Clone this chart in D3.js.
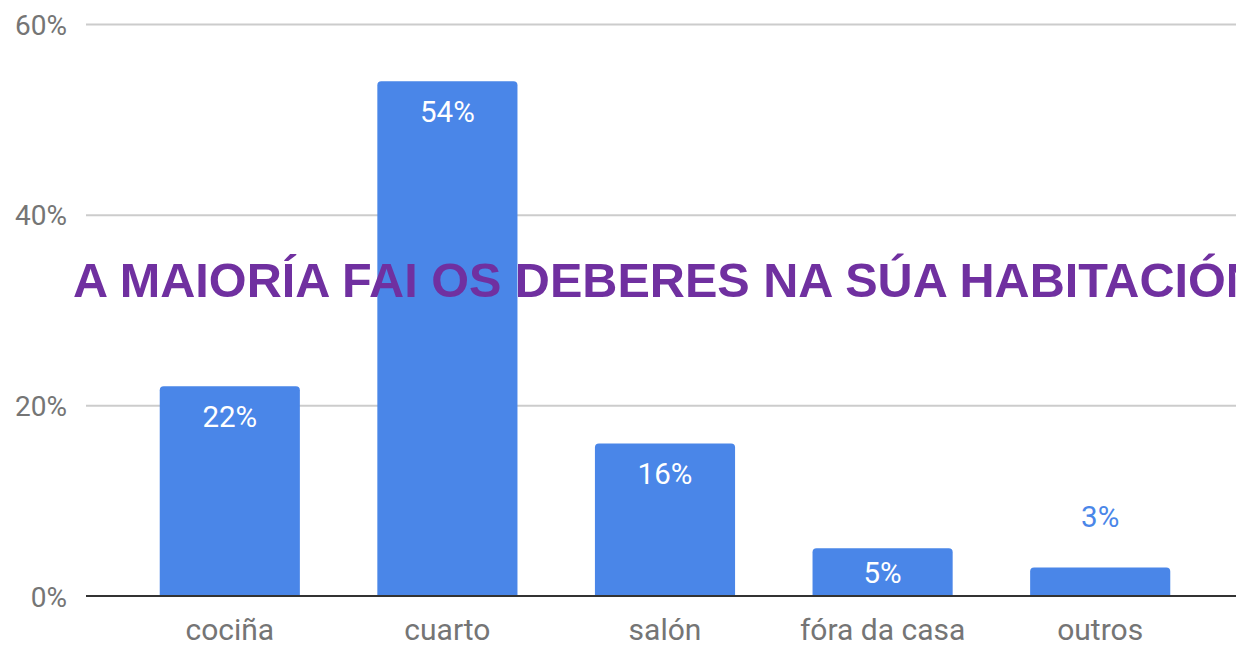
<!DOCTYPE html>
<html>
<head>
<meta charset="utf-8">
<script src="https://cdn.jsdelivr.net/npm/d3@7"></script>
<style>
  body { margin: 0; background: #fff; overflow: hidden; }
  svg { display: block; }
</style>
</head>
<body>
<svg id="chart"></svg>
<script>
// where students do their homework (% of answers)
var categories = ["cociña", "cuarto", "salón", "fóra da casa", "outros"];
var values = [22, 54, 16, 5, 3];
var yTicks = [0, 20, 40, 60];
var title = "A MAIORÍA FAI OS DEBERES NA SÚA HABITACIÓN";

var width = 1236,
  height = 646;

var svg = d3.select("#chart").attr("width", width).attr("height", height);

var x = d3
  .scaleBand()
  .domain(categories)
  .range([121, 1209])
  .paddingInner(0.356)
  .paddingOuter(0.178);

var y = d3.scaleLinear().domain([0, 60]).range([596, 24]);

// gridlines + tick labels
var yAxis = svg
  .append("g")
  .attr("transform", "translate(86,0)")
  .call(
    d3
      .axisLeft(y)
      .tickValues(yTicks)
      .tickSize(-(width - 86))
      .tickPadding(19)
      .tickFormat((d) => d + "%")
  );
yAxis.select(".domain").remove();
yAxis
  .selectAll(".tick line")
  .attr("stroke", (d) => (d === 0 ? "none" : "#cccccc"))
  .attr("stroke-width", 2);
yAxis
  .selectAll(".tick text")
  .attr("fill", "#757575")
  .attr("font-family", "Roboto, sans-serif")
  .attr("font-size", 28)
  .attr("dy", "0.36em");

// bars with rounded tops
function barPath(d, i) {
  var x0 = x(categories[i]),
    w = x.bandwidth(),
    y0 = y(d),
    y1 = y(0),
    r = Math.min(4, (y1 - y0) / 2);
  return (
    `M${x0},${y1}V${y0 + r}Q${x0},${y0} ${x0 + r},${y0}` +
    `H${x0 + w - r}Q${x0 + w},${y0} ${x0 + w},${y0 + r}V${y1}Z`
  );
}

svg
  .append("g")
  .selectAll("path")
  .data(values)
  .enter()
  .append("path")
  .attr("fill", "#4a86e8")
  .attr("d", barPath);

// baseline
svg
  .append("line")
  .attr("x1", 86)
  .attr("x2", width)
  .attr("y1", y(0))
  .attr("y2", y(0))
  .attr("stroke", "#333333")
  .attr("stroke-width", 2);

// value labels: inside the bar when it fits, above it otherwise
function fitsInside(d) {
  return y(0) - y(d) > 40;
}
svg
  .append("g")
  .selectAll("text")
  .data(values)
  .enter()
  .append("text")
  .attr("x", (d, i) => x(categories[i]) + x.bandwidth() / 2)
  .attr("y", (d) =>
    fitsInside(d)
      ? Math.min(y(d) + 41, (y(d) + y(0)) / 2 + 11)
      : y(d) - 40
  )
  .attr("text-anchor", "middle")
  .attr("font-family", "Roboto, sans-serif")
  .attr("font-size", 29.5)
  .attr("fill", (d) => (fitsInside(d) ? "#ffffff" : "#4a86e8"))
  .text((d) => d + "%");

// category labels
svg
  .append("g")
  .selectAll("text")
  .data(categories)
  .enter()
  .append("text")
  .attr("x", (d) => x(d) + x.bandwidth() / 2)
  .attr("y", 640)
  .attr("text-anchor", "middle")
  .attr("font-family", "Roboto, sans-serif")
  .attr("font-size", 30)
  .attr("fill", "#757575")
  .text((d) => d);

// overlaid title (runs off the right edge, as in the original)
svg
  .append("text")
  .attr("x", 73)
  .attr("y", 297)
  .attr("font-family", "'Liberation Sans', Arial, sans-serif")
  .attr("font-weight", "bold")
  .attr("font-size", 48.6)
  .attr("fill", "#7030a0")
  .text(title);
</script>
</body>
</html>
